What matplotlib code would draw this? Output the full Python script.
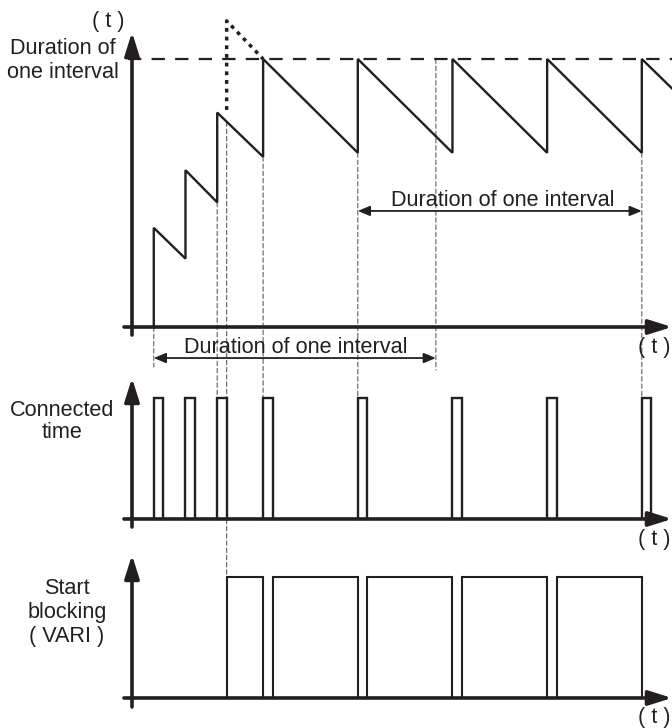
import matplotlib
matplotlib.use("Agg")
import matplotlib.pyplot as plt
from matplotlib.patches import ConnectionPatch

# ---------------- data ----------------
# top panel: remaining duration of the interval (sawtooth)
saw_t = [2.3, 2.3, 5.65, 5.65, 9.0, 9.0, 13.85, 13.85, 23.85, 23.85,
         33.85, 33.85, 43.85, 43.85, 53.85, 53.85, 57.04]
saw_v = [0.0, 3.7, 2.55, 5.85, 4.65, 8.0, 6.35, 10.0, 6.5, 10.0,
         6.5, 10.0, 6.5, 10.0, 6.5, 10.0, 8.9]
interval_level = 10.0
dotted_t = [10.0, 10.0, 13.85]
dotted_v = [8.1, 11.42, 10.0]

# middle panel: connected time pulses
pulse_start = [2.3, 5.65, 9.0, 13.85, 23.85, 33.85, 43.85, 53.85]
pulse_width = 1.0

# bottom panel: start blocking (VARI)
block_start = [10.0, 14.85, 24.85, 34.85, 44.85]
block_end = [13.85, 23.85, 33.85, 43.85, 53.85]

# dimension arrows
dim_top = (23.85, 53.85)
dim_bottom = (2.3, 32.1)
dim_label = "Duration of one interval"

# guide lines: time, start value in top panel, target panel, target value
guide_t = [2.3, 9.0, 10.0, 13.85, 23.85, 32.1, 53.85]
guide_from = [0.0, 4.65, 7.65, 6.35, 6.5, 10.0, 6.5]
guide_panel = [1, 1, 2, 1, 1, 1, 1]
guide_to = [1.256, 1.0, 1.0, 1.0, 1.0, 1.23, 1.0]

panel_labels = ["Duration of\none interval", "Connected\ntime",
                "Start\nblocking\n( VARI )"]
axis_unit = "( t )"

# ---------------- style ----------------
INK = "#231f20"
GUIDE = "#5e5e5e"
FONT = "Liberation Sans"
FS = 15.6
W, H = 672, 728
XLIM = (-13.943, 57.04)

fig = plt.figure(figsize=(W / 100, H / 100), dpi=100)


def add_panel(top_px, bot_px, ylim):
    ax = fig.add_axes([0, 1 - bot_px / H, 1, (bot_px - top_px) / H])
    ax.set_xlim(*XLIM)
    ax.set_ylim(*ylim)
    ax.axis("off")
    ax.patch.set_visible(False)
    return ax


ax1 = add_panel(0, 340, (-0.485, 12.20))
ax2 = add_panel(340, 545, (-0.215, 1.479))
ax3 = add_panel(545, 728, (-0.248, 1.264))
axes = [ax1, ax2, ax3]


def axis_arrow(ax, p0, p1):
    ax.annotate("", xy=p1, xytext=p0, annotation_clip=False,
                arrowprops=dict(arrowstyle="-|>,head_length=0.7,head_width=0.22",
                                mutation_scale=20, lw=2.6, color=INK,
                                shrinkA=0, shrinkB=0))


# axes with arrows
axis_arrow(ax1, (0, -0.3), (0, 11.0))
axis_arrow(ax1, (-0.85, 0), (XLIM[1], 0))
axis_arrow(ax2, (0, -0.066), (0, 1.165))
axis_arrow(ax2, (-0.85, 0), (XLIM[1], 0))
axis_arrow(ax3, (0, -0.074), (0, 1.182))
axis_arrow(ax3, (-0.85, 0), (XLIM[1], 0))

# top panel
ax1.plot([-0.4, XLIM[1]], [interval_level, interval_level], color=INK, lw=1.6,
         linestyle=(0, (6.0, 4.6)), dash_capstyle="butt")
ax1.plot(saw_t, saw_v, color=INK, lw=1.7, solid_joinstyle="miter")
ax1.plot(dotted_t, dotted_v, color=INK, lw=2.5, linestyle=(0, (1.1, 1.4)),
         dash_capstyle="butt")

# middle panel pulses
for s in pulse_start:
    ax2.plot([s, s, s + pulse_width, s + pulse_width], [0, 1, 1, 0],
             color=INK, lw=1.7, solid_joinstyle="miter")

# bottom panel blocking
for s, e in zip(block_start, block_end):
    ax3.plot([s, s, e, e], [0, 1, 1, 0], color=INK, lw=1.5,
             solid_joinstyle="miter")

# guide lines
for t, v0, p, v1 in zip(guide_t, guide_from, guide_panel, guide_to):
    con = ConnectionPatch(xyA=(t, v0), coordsA=ax1.transData,
                          xyB=(t, v1), coordsB=axes[p].transData,
                          color=GUIDE, lw=0.8, linestyle=(0, (4, 2.5)),
                          zorder=-1)
    fig.add_artist(con)


def dim_arrow(ax, span, v):
    ax.annotate("", xy=(span[1], v), xytext=(span[0], v),
                arrowprops=dict(arrowstyle="<|-|>,head_length=0.6,head_width=0.25",
                                mutation_scale=12, lw=1.3, color=INK,
                                shrinkA=0, shrinkB=0))


dim_arrow(ax1, dim_top, 4.33)
ax1.text(39.2, 4.50, dim_label, ha="center", va="baseline", fontsize=FS,
         family=FONT, color=INK)
dim_arrow(ax2, dim_bottom, 1.33)
ax2.text(17.27, 1.372, dim_label, ha="center", va="baseline", fontsize=FS,
         family=FONT, color=INK)


def ftext(xp, yp, s, **kw):
    fig.text(xp / W, 1 - yp / H, s, fontsize=FS, family=FONT, color=INK, **kw)


ftext(63, 60.5, panel_labels[0], ha="center", va="center", multialignment="center",
      linespacing=1.2)
ftext(62, 421.5, panel_labels[1], ha="center", va="center", multialignment="center",
      linespacing=1.12)
ftext(67, 612.5, panel_labels[2], ha="center", va="center", multialignment="center",
      linespacing=1.2)
ftext(108, 22, axis_unit, ha="center", va="center")
for yp in (347, 540, 718):
    ftext(671, yp, axis_unit, ha="right", va="center")

fig.savefig("out.png", dpi=100)
